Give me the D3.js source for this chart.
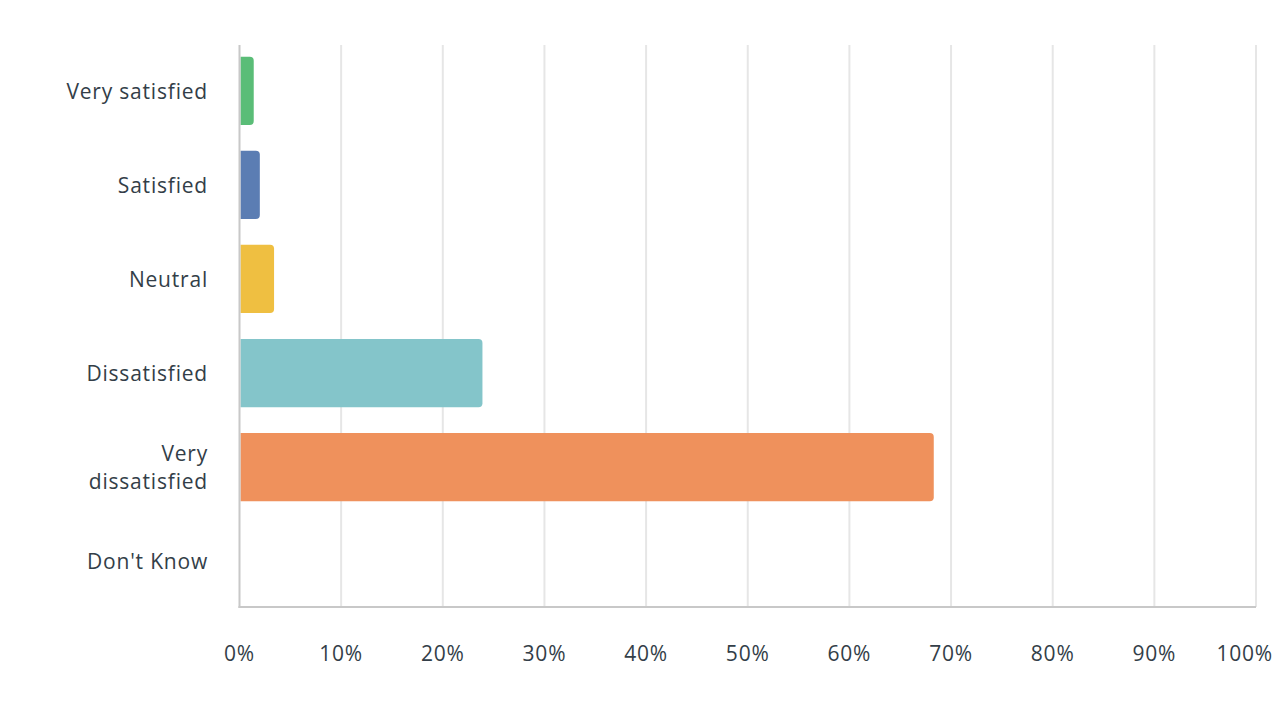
<!DOCTYPE html>
<html><head><meta charset="utf-8">
<script src="https://cdn.jsdelivr.net/npm/d3@7"></script>
<style>body{margin:0;background:#fff;}svg{display:block;}</style>
</head><body>
<svg id="chart" width="1288" height="726"></svg>
<script>
const categories = ["Very satisfied","Satisfied","Neutral","Dissatisfied","Very dissatisfied","Don't Know"];
const values = [1.4, 2.0, 3.4, 23.9, 68.3, 0];
const colors = ["#5abd77","#5b7db3","#efbf41","#84c5ca","#ef915c","#cccccc"];
const tickValues = [0,10,20,30,40,50,60,70,80,90,100];

(function(){
const svg = d3.select("#chart");
const pLeft = 239.5, pRight = 1256, pTop = 45, pBottom = 607;
const x = d3.scaleLinear().domain([0,100]).range([pLeft,pRight]);
const y = d3.scaleBand().domain(categories).range([pTop,pBottom]).paddingInner(0.275).paddingOuter(0.125);
const font = "'Open Sans', 'Noto Sans', sans-serif";
const textColor = "#333e48";
const fs = 21, ls = 0.8;

// gridlines
svg.append("g").selectAll("line").data(tickValues.slice(1)).join("line")
  .attr("x1",d=>x(d)).attr("x2",d=>x(d)).attr("y1",pTop).attr("y2",pBottom)
  .attr("stroke","#e6e6e6").attr("stroke-width",2);

// bars with right rounded corners
const r = 4;
svg.append("g").selectAll("path").data(categories.map((c,i)=>({c,v:values[i],col:colors[i]})).filter(d=>d.v>0)).join("path")
  .attr("fill",d=>d.col)
  .attr("d",d=>{
    const x0 = x(0)+1, x1 = x(d.v), y0 = y(d.c), h = y.bandwidth();
    const rr = Math.min(r, (x1-x0)/2);
    return `M${x0},${y0}H${x1-rr}Q${x1},${y0} ${x1},${y0+rr}V${y0+h-rr}Q${x1},${y0+h} ${x1-rr},${y0+h}H${x0}Z`;
  });

// axis lines
svg.append("line").attr("x1",pLeft).attr("x2",pLeft).attr("y1",pTop).attr("y2",pBottom+1)
  .attr("stroke","#c8c8c8").attr("stroke-width",2);
svg.append("line").attr("x1",pLeft-1).attr("x2",pRight).attr("y1",pBottom).attr("y2",pBottom)
  .attr("stroke","#c8c8c8").attr("stroke-width",2);

// x tick labels (last one kept inside the frame)
svg.append("g").selectAll("text").data(tickValues).join("text")
  .attr("x",(d,i)=> i===tickValues.length-1 ? 1273 : x(d))
  .attr("y",661)
  .attr("text-anchor",(d,i)=> i===tickValues.length-1 ? "end" : "middle")
  .attr("font-family",font).attr("font-size",fs).attr("letter-spacing",ls).attr("fill",textColor)
  .text(d=>d+"%");

// y labels
const labelLines = {"Very dissatisfied":["Very","dissatisfied"]};
const yl = svg.append("g");
categories.forEach(c=>{
  const cy = y(c)+y.bandwidth()/2;
  const lines = labelLines[c] || [c];
  const t = yl.append("text").attr("text-anchor","end")
    .attr("font-family",font).attr("font-size",fs).attr("letter-spacing",ls).attr("fill",textColor);
  lines.forEach((ln,i)=>{
    t.append("tspan").attr("x",208).attr("y",cy + 8 + (i-(lines.length-1)/2)*28).text(ln);
  });
});
})();
</script>
</body></html>
